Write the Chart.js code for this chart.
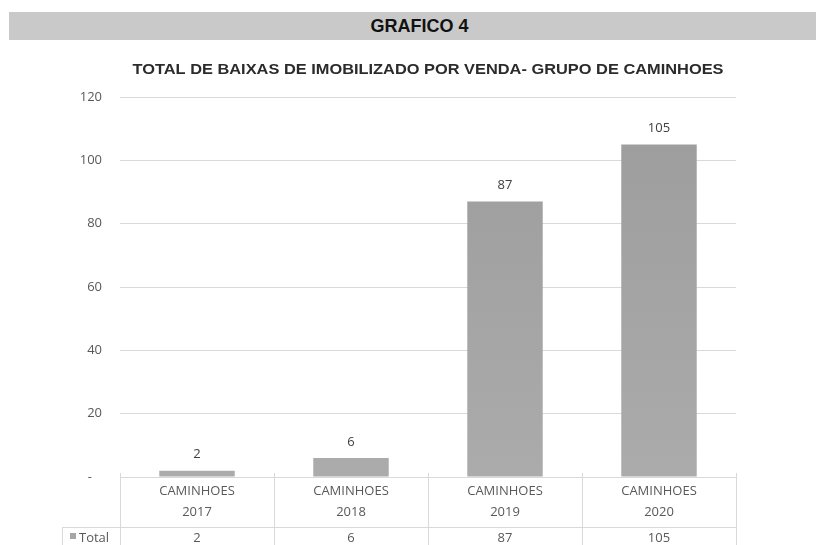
<!DOCTYPE html>
<html>
<head>
<meta charset="utf-8">
<script src="https://cdn.jsdelivr.net/npm/chart.js@4.4.1/dist/chart.umd.min.js"></script>
<style>
html, body { margin: 0; padding: 0; background: #fff; }
#wrap { position: relative; width: 816px; height: 545px; overflow: hidden; }
#cabecalho {
    position: absolute; left: 9px; top: 12px; width: 807px; height: 28px;
    background: #c9c9c9; color: #111;
    font: bold 18px 'Liberation Sans', Arial, sans-serif;
    line-height: 28px; text-align: center; padding-left: 14px; box-sizing: border-box;
}
canvas { position: absolute; left: 0; top: 0; }
</style>
</head>
<body>
<div id="wrap">
    <canvas id="grafico4" width="816" height="545"></canvas>
    <div id="cabecalho">GRAFICO 4</div>
</div>
<script>
// dados do grafico
const grupos = ['CAMINHOES', 'CAMINHOES', 'CAMINHOES', 'CAMINHOES'];
const anos = ['2017', '2018', '2019', '2020'];
const totais = [2, 6, 87, 105];
const ticksEixoY = [0, 20, 40, 60, 80, 100, 120];
const nomeSerie = 'Total';
const tituloGrafico = 'TOTAL DE BAIXAS DE IMOBILIZADO POR VENDA- GRUPO DE CAMINHOES';

const fonteTexto = "'Open Sans', 'Liberation Sans', sans-serif";
const corTexto = '#595959';
const corLinha = '#d9d9d9';

// titulo centrado na area do grafico (esticado para a largura do original)
const tituloPlugin = {
    id: 'tituloPlugin',
    afterDraw(chart) {
        const { ctx, chartArea } = chart;
        const larguraAlvo = 591;
        ctx.save();
        ctx.font = "bold 15.5px 'Liberation Sans', Arial, sans-serif";
        ctx.fillStyle = '#2b2b2b';
        ctx.textAlign = 'center';
        ctx.textBaseline = 'middle';
        const w = ctx.measureText(tituloGrafico).width;
        ctx.translate((chartArea.left + chartArea.right) / 2, chartArea.top - 27);
        ctx.scale(larguraAlvo / w, 1);
        ctx.fillText(tituloGrafico, 0, 0);
        ctx.restore();
    }
};

// rotulos de valor em cima das barras
const rotulosPlugin = {
    id: 'rotulosPlugin',
    afterDatasetsDraw(chart) {
        const { ctx } = chart;
        const meta = chart.getDatasetMeta(0);
        ctx.save();
        ctx.font = '13px ' + fonteTexto;
        ctx.fillStyle = '#404040';
        ctx.textAlign = 'center';
        ctx.textBaseline = 'middle';
        meta.data.forEach((barra, i) => {
            ctx.fillText(String(totais[i]), barra.x, barra.y - 16);
        });
        ctx.restore();
    }
};

// tabela de dados abaixo do eixo
const tabelaPlugin = {
    id: 'tabelaPlugin',
    afterDraw(chart) {
        const { ctx, chartArea, scales: { x } } = chart;
        const topo = chartArea.bottom;
        const linhaTotal = topo + 50;
        const fundo = chart.height;
        const larguraCat = (chartArea.right - chartArea.left) / anos.length;
        const esquerdaLegenda = 62;

        ctx.save();
        ctx.strokeStyle = corLinha;
        ctx.lineWidth = 1;
        ctx.beginPath();
        ctx.moveTo(chartArea.left, topo + 0.5);
        ctx.lineTo(chartArea.right, topo + 0.5);
        ctx.moveTo(esquerdaLegenda, linhaTotal + 0.5);
        ctx.lineTo(chartArea.right, linhaTotal + 0.5);
        ctx.moveTo(esquerdaLegenda + 0.5, linhaTotal);
        ctx.lineTo(esquerdaLegenda + 0.5, fundo);
        for (let i = 0; i <= anos.length; i++) {
            const xb = Math.round(chartArea.left + i * larguraCat) + 0.5;
            ctx.moveTo(xb, topo - 4);
            ctx.lineTo(xb, fundo);
        }
        ctx.stroke();

        ctx.font = '13px ' + fonteTexto;
        ctx.fillStyle = corTexto;
        ctx.textAlign = 'center';
        ctx.textBaseline = 'middle';
        anos.forEach((ano, i) => {
            const cx = x.getPixelForValue(i);
            ctx.fillText(grupos[i], cx, topo + 14);
            ctx.fillText(ano, cx, topo + 35);
            ctx.fillText(String(totais[i]), cx, linhaTotal + 11);
        });

        // legenda da serie
        ctx.fillStyle = '#a6a6a6';
        ctx.fillRect(70, linhaTotal + 6, 6, 6);
        ctx.fillStyle = corTexto;
        ctx.textAlign = 'left';
        ctx.fillText(nomeSerie, 79, linhaTotal + 11);
        ctx.restore();
    }
};

function gradienteBarra(context) {
    const chart = context.chart;
    const area = chart.chartArea;
    if (!area) return '#a0a0a0';
    const g = chart.ctx.createLinearGradient(0, area.top, 0, area.bottom);
    g.addColorStop(0, '#9c9c9c');
    g.addColorStop(1, '#ababab');
    return g;
}

const ctx = document.getElementById('grafico4');
new Chart(ctx, {
    type: 'bar',
    data: {
        labels: anos.map((a, i) => grupos[i] + ' ' + a),
        datasets: [{
            label: nomeSerie,
            data: totais,
            backgroundColor: gradienteBarra,
            borderWidth: 0,
            barPercentage: 0.49,
            categoryPercentage: 1
        }]
    },
    options: {
        responsive: false,
        animation: false,
        layout: { padding: { left: 0, right: 80, top: 97, bottom: 68 } },
        plugins: {
            legend: { display: false },
            title: { display: false },
            tooltip: { enabled: false }
        },
        scales: {
            x: { display: false },
            y: {
                min: 0,
                max: 120,
                afterFit: scale => { scale.width = 120; },
                afterBuildTicks: scale => { scale.ticks = ticksEixoY.map(v => ({ value: v })); },
                ticks: {
                    padding: 18,
                    color: corTexto,
                    font: { family: fonteTexto, size: 13 },
                    callback: v => v === 0 ? '-   ' : v
                },
                grid: {
                    color: ctx2 => ctx2.tick && ctx2.tick.value === 0 ? 'rgba(0,0,0,0)' : corLinha,
                    drawTicks: false
                },
                border: { display: false }
            }
        }
    },
    plugins: [tituloPlugin, rotulosPlugin, tabelaPlugin]
});
</script>
</body>
</html>
